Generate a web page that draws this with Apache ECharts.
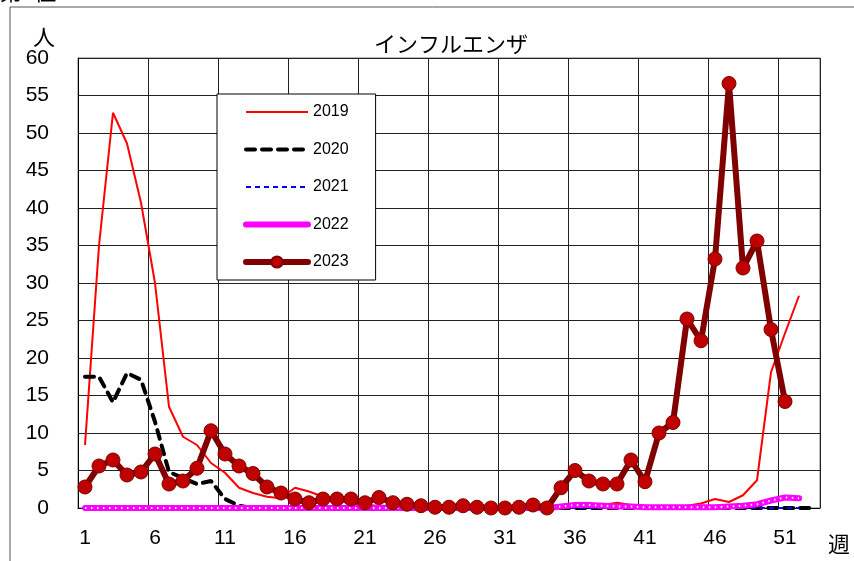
<!DOCTYPE html>
<html>
<head>
<meta charset="utf-8">
<script src="https://cdn.jsdelivr.net/npm/echarts@6/dist/echarts.min.js"></script>
<style>html,body{margin:0;padding:0;background:#fff;}#c{width:854px;height:561px;}</style>
</head>
<body>
<div id="c"></div>
<script>
const weeks = [];
for (let i = 1; i <= 53; i++) weeks.push(String(i));

const y2019 = [8.4, 35, 52.7, 48.6, 40.7, 30, 13.5, 9.5, 8.4, 6, 4.7, 2.7, 2.0, 1.5, 1.3, 2.7, 2.2, 1.5, 1.0, 0.6,
  0.4, 0.3, 0.3, 0.2, 0.2, 0.1, 0.1, 0.1, 0.1, 0.1, 0.1, 0.1, 0.1, 0.1, 0.2, 0.2, 0.3, 0.4, 0.7, 0.4,
  0.3, 0.2, 0.2, 0.3, 0.6, 1.2, 0.8, 1.7, 3.7, 18.1, 23.3, 28.3, null];
const y2020 = [17.5, 17.5, 14.1, 18, 17.1, 11.5, 4.8, 4.0, 3.2, 3.6, 1.2, 0.3, 0, 0, 0, 0, 0, 0, 0, 0,
  0, 0, 0, 0, 0, 0, 0, 0, 0, 0, 0, 0, 0, 0, 0, 0, 0, 0, 0, 0,
  0, 0, 0, 0, 0, 0, 0, 0, 0, 0, 0, 0, 0];
const y2021 = [0, 0, 0, 0, 0, 0, 0, 0, 0, 0, 0, 0, 0, 0, 0, 0, 0, 0, 0, 0,
  0, 0, 0, 0, 0, 0, 0, 0, 0, 0, 0, 0, 0, 0, 0, 0, 0, 0, 0, 0,
  0, 0, 0, 0, 0, 0, 0, 0, 0, 0, 0, 0, null];
const y2022 = [0, 0, 0, 0, 0, 0, 0, 0, 0, 0, 0, 0, 0, 0, 0, 0, 0, 0, 0, 0,
  0, 0, 0, 0, 0, 0, 0, 0, 0, 0, 0, 0, 0, 0, 0.2, 0.4, 0.4, 0.3, 0.2, 0.2,
  0.1, 0.1, 0.1, 0.1, 0.1, 0.1, 0.2, 0.3, 0.5, 1.0, 1.4, 1.3, null];
const y2023 = [2.8, 5.6, 6.4, 4.4, 4.8, 7.2, 3.2, 3.6, 5.3, 10.3, 7.2, 5.6, 4.6, 2.8, 2.0, 1.2, 0.7, 1.2, 1.2, 1.2,
  0.7, 1.4, 0.7, 0.5, 0.3, 0.1, 0.1, 0.3, 0.1, 0, 0, 0.1, 0.4, 0, 2.7, 5.0, 3.6, 3.2, 3.2, 6.4,
  3.5, 10, 11.4, 25.2, 22.3, 33.2, 56.6, 32, 35.6, 23.8, 14.2, null, null];

const yTicks = [0, 60, 5];

const numFont = 'Liberation Sans';
const jpFont = 'Noto Sans CJK JP';

const chart = echarts.init(document.getElementById('c'), null, {renderer: 'canvas'});
chart.setOption({
  animation: false,
  backgroundColor: '#fff',
  graphic: [
    {type: 'rect', shape: {x: 10, y: 7, width: 900, height: 600}, style: {fill: 'none', stroke: '#555', lineWidth: 1}, z: -1},
    {type: 'text', left: 0, top: -19, style: {text: '第1位', font: '22px "Noto Sans CJK JP"', fill: '#000'}},
    {type: 'text', left: 33, top: 26, style: {text: '人', font: '22px "Noto Sans CJK JP"', fill: '#000'}},
    {type: 'text', left: 828, top: 533, style: {text: '週', font: '22px "Noto Sans CJK JP"', fill: '#000'}}
  ],
  title: {
    text: 'インフルエンザ', left: 369, top: 28,
    textStyle: {fontFamily: jpFont, fontSize: 22, fontWeight: 'normal', color: '#000'}
  },
  legend: {
    orient: 'vertical', left: 217, top: 94,
    padding: [10, 27, 10, 26],
    itemWidth: 62, itemHeight: 14, itemGap: 21.5,
    backgroundColor: '#fff', borderColor: '#000', borderWidth: 1,
    lineStyle: {width: 'inherit'},
    textStyle: {fontFamily: numFont, fontSize: 16, color: '#000', lineHeight: 16},
    data: [
      {name: '2019', itemStyle: {opacity: 0}},
      {name: '2020', itemStyle: {opacity: 0}},
      {name: '2021', itemStyle: {opacity: 0}},
      {name: '2022', itemStyle: {opacity: 0}},
      {name: '2023'}
    ]
  },
  grid: {left: 78, top: 58, right: 34, bottom: 53, show: true, borderColor: '#777', borderWidth: 1},
  xAxis: {
    type: 'category', data: weeks, boundaryGap: true,
    axisLine: {lineStyle: {color: '#000', width: 1}},
    axisTick: {show: false},
    axisLabel: {interval: 4, margin: 20, fontFamily: numFont, fontSize: 21, color: '#000'},
    splitLine: {show: true, interval: 4, lineStyle: {color: '#222', width: 1}}
  },
  yAxis: {
    type: 'value', min: yTicks[0], max: yTicks[1], interval: yTicks[2],
    axisLine: {show: true, lineStyle: {color: '#000', width: 1}},
    axisTick: {show: false},
    axisLabel: {margin: 29, fontFamily: numFont, fontSize: 21, color: '#000'},
    splitLine: {show: true, lineStyle: {color: '#222', width: 1}}
  },
  series: [
    {name: '2019', type: 'line', data: y2019, symbol: 'none', z: 2,
      lineStyle: {color: '#ff0000', width: 2}, itemStyle: {color: '#ff0000'}},
    {name: '2020', type: 'line', data: y2020, symbol: 'none', z: 3,
      lineStyle: {color: '#000', width: 4, type: [9, 7], cap: 'round'}, itemStyle: {color: '#000'}},
    {name: '2021', type: 'line', data: y2021, symbol: 'none', z: 4,
      lineStyle: {color: '#0000ff', width: 2, type: [5, 4]}, itemStyle: {color: '#0000ff'}},
    {name: '2022', type: 'line', data: y2022, symbol: 'none', z: 5,
      lineStyle: {color: '#ff00ff', width: 6, cap: 'round'}, itemStyle: {color: '#ff00ff'}},
    {name: '2022dots', type: 'line', data: y2022, symbol: 'none', z: 6, silent: true,
      lineStyle: {color: '#fff', width: 2, type: [1.5, 4.5]}},
    {name: '2023', type: 'line', data: y2023, symbol: 'circle', symbolSize: 14, showAllSymbol: true, z: 7,
      lineStyle: {color: '#800000', width: 6, cap: 'round', join: 'round'},
      itemStyle: {color: '#c00000', borderColor: '#800000', borderWidth: 1}}
  ]
});
</script>
</body>
</html>
